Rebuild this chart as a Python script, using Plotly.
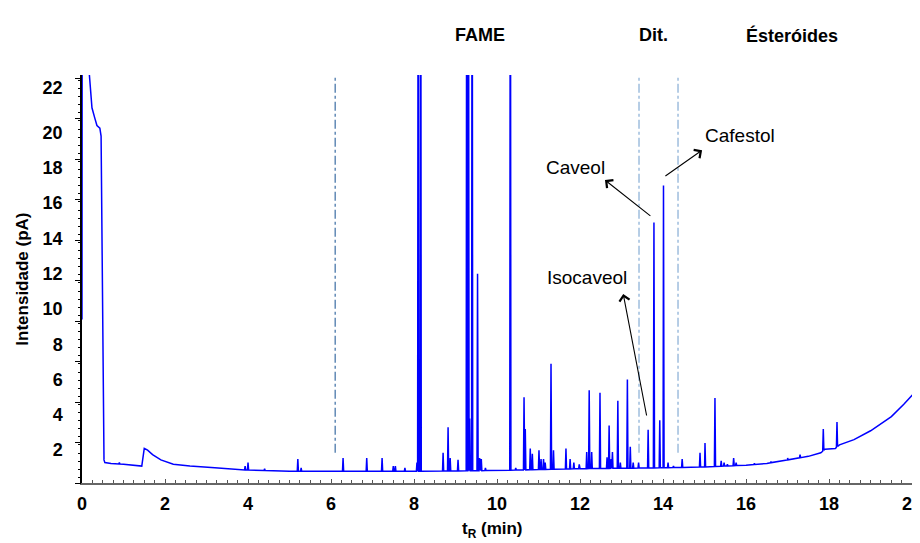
import numpy as np
import plotly.graph_objects as go

# ---- data ----
# baseline / slow-varying signal knots (retention time in min, intensity in pA)
base_t = [0.0, 0.005, 0.17, 0.24, 0.31, 0.36, 0.43, 0.46, 0.53, 0.55, 0.7, 1.0, 1.44,
          1.50, 1.58, 1.7, 1.9, 2.2, 2.6, 3.2, 3.9, 5.0, 6.5, 8.0, 10.0, 12.0, 14.0, 15.0,
          16.0, 16.5, 17.0, 17.5, 17.8, 17.9, 18.15, 18.25, 18.6, 19.0, 19.5, 19.8, 20.19]
base_v = [9.4, 30.0, 23.5, 21.4, 20.8, 20.4, 20.25, 19.8, 1.45, 1.3, 1.25, 1.2, 1.1,
          2.1, 2.0, 1.75, 1.45, 1.2, 1.1, 1.0, 0.88, 0.8, 0.8, 0.8, 0.85, 0.95, 1.0, 1.05,
          1.15, 1.25, 1.45, 1.65, 1.85, 2.05, 2.1, 2.3, 2.6, 3.1, 3.9, 4.6, 5.6]

# sharp peaks (apex retention time, apex intensity); 40 = off scale
peak_t = [0.9, 2.53, 3.93, 4.0, 4.4, 5.2, 5.28, 6.29, 6.86, 7.23, 7.5, 7.55, 7.78, 8.07,
          8.10, 8.16, 8.70, 8.82, 8.87, 9.06, 9.27, 9.31, 9.34, 9.40, 9.53, 9.58, 9.62,
          9.72, 10.32, 10.45, 10.65, 10.68, 10.80, 10.85, 11.01, 11.06, 11.12, 11.16,
          11.30, 11.36, 11.66, 11.76, 11.85, 11.98, 12.16, 12.22, 12.28, 12.48, 12.65,
          12.70, 12.75, 12.78, 12.91, 12.97, 13.14, 13.21, 13.28, 13.41, 13.64, 13.78,
          13.92, 14.01, 14.12, 14.25, 14.46, 14.70, 14.89, 15.01, 15.25, 15.40, 15.47,
          15.55, 15.70, 15.76, 16.20, 16.60, 17.00, 17.30, 17.86, 18.19]
peak_v = [1.3, 1.15, 1.1, 1.3, 0.95, 1.5, 1.0, 1.55, 1.55, 1.55, 1.1, 1.1, 1.0, 1.3,
          40, 40, 1.85, 3.3, 1.55, 1.45, 40, 40, 3.8, 40, 12.0, 1.55, 1.5,
          1.0, 40, 1.0, 5.0, 3.2, 2.1, 1.8, 2.0, 1.5, 1.5, 1.3,
          6.9, 2.0, 2.1, 1.5, 1.3, 1.2, 1.9, 5.4, 1.9, 5.25, 1.6,
          3.4, 1.5, 1.9, 4.8, 1.3, 6.0, 2.2, 1.3, 1.3, 3.15, 14.9,
          3.7, 17.0, 1.3, 1.1, 1.5, 1.05, 1.85, 2.4, 4.95, 1.4, 1.3,
          1.2, 1.55, 1.3, 1.25, 1.35, 1.55, 1.75, 3.2, 3.6]

x_tick_vals = [0, 2, 4, 6, 8, 10, 12, 14, 16, 18, 20]
y_tick_text = ["2", "4", "6", "8", "10", "12", "14", "16", "18", "20", "22"]
y_tick_pos = [2, 4, 6, 8, 10, 12, 14, 16, 18, 20, 22.55]

region_lines = [6.10, 13.42, 14.36]
region_colors = ["#4a78aa", "#8fb3d8", "#8fb3d8"]
group_labels = ["FAME", "Dit.", "Ésteróides"]
group_pos = [9.59, 13.76, 17.11]

# ---- build trace polyline ----
half_w = 0.014
pts = list(zip(base_t, base_v))
for t, h in zip(peak_t, peak_v):
    foot_l = float(np.interp(t - half_w, base_t, base_v))
    foot_r = float(np.interp(t + half_w, base_t, base_v))
    pts += [(t - half_w, foot_l), (t, h), (t + half_w, foot_r)]
pts.sort(key=lambda p: p[0])
xs = [p[0] for p in pts]
ys = [p[1] for p in pts]

X0, X1 = 0.0, 20.19
Y0, Y1 = 0.14, 23.26

fig = go.Figure()
fig.add_trace(go.Scatter(x=xs, y=ys, mode="lines",
                         line=dict(color="#0000ff", width=1.5),
                         hoverinfo="skip", showlegend=False))
# invisible trace to activate the tick-mark axis
fig.add_trace(go.Scatter(x=[X0], y=[Y0], yaxis="y2", mode="markers",
                         marker=dict(opacity=0), showlegend=False, hoverinfo="skip"))

for xv, col in zip(region_lines, region_colors):
    fig.add_shape(type="line", x0=xv, x1=xv, y0=1.85, y1=Y1, xref="x", yref="y",
                  line=dict(color=col, width=1.3, dash="dashdot"))

FAM = "Liberation Sans, Arial, sans-serif"
bold = dict(family=FAM, size=18, color="black")
reg = dict(family=FAM, size=19, color="black")

for lab, xv in zip(group_labels, group_pos):
    fig.add_annotation(x=xv, y=1.127, xref="x", yref="paper", text="<b>%s</b>" % lab,
                       showarrow=False, font=bold)

# compound labels
fig.add_annotation(x=11.88, y=18.04, text="Caveol", showarrow=False, font=reg)
fig.add_annotation(x=15.86, y=19.81, text="Cafestol", showarrow=False, font=reg)
fig.add_annotation(x=12.17, y=11.76, text="Isocaveol", showarrow=False, font=reg)
# arrows (head at x,y ; tail at ax,ay)
arrows = [((12.60, 17.31), (13.73, 15.21)),
          ((14.94, 19.0), (14.02, 17.48)),
          ((13.04, 10.85), (13.61, 3.88))]
for (hx, hy), (tx, ty) in arrows:
    fig.add_annotation(x=hx, y=hy, ax=tx, ay=ty, xref="x", yref="y", axref="x", ayref="y",
                       text="", showarrow=True, arrowhead=4, arrowsize=1.8, arrowwidth=1.1,
                       arrowcolor="black", standoff=0, startstandoff=0)

# axis titles
fig.add_annotation(x=-0.072, y=0.5, xref="paper", yref="paper", text="<b>Intensidade (pA)</b>",
                   textangle=-90, showarrow=False, font=dict(family=FAM, size=17, color="black"),
                   xanchor="center", yanchor="middle")
fig.add_annotation(x=(492 - 82) / 838, y=-0.115, xref="paper", yref="paper",
                   text="<b>t<sub>R</sub> (min)</b>", showarrow=False,
                   font=dict(family=FAM, size=17, color="black"),
                   xanchor="center", yanchor="middle")

# the page body adds an 8px offset, so the figure is 8px smaller and margins shifted
fig.update_layout(
    width=912, height=535,
    margin=dict(l=74, r=0, t=67, b=60, autoexpand=False),
    plot_bgcolor="white", paper_bgcolor="white",
    xaxis=dict(range=[X0, X1], tickvals=x_tick_vals,
               ticktext=["<b>%d</b>" % v for v in x_tick_vals],
               ticks="inside", ticklen=4, automargin=False, ticklabeloverflow="allow",
               tickcolor="#555", showline=True, linecolor="#666", linewidth=2,
               showgrid=False, zeroline=False, tickfont=bold, ticklabelstandoff=3,
               minor=dict(ticks="inside", dtick=0.25, ticklen=3, tickcolor="#555")),
    yaxis=dict(range=[Y0, Y1], tickvals=y_tick_pos,
               ticktext=["<b>%s</b>" % t for t in y_tick_text], automargin=False,
               ticks="", showline=True, linecolor="black", linewidth=1.5,
               showgrid=False, zeroline=False, tickfont=bold, ticklabelstandoff=14),
    yaxis2=dict(range=[Y0, Y1], overlaying="y", side="left", showticklabels=False,
                ticks="outside", tick0=Y0, dtick=2.295, ticklen=6, tickcolor="black",
                showline=False, showgrid=False, zeroline=False, automargin=False,
                minor=dict(ticks="outside", dtick=0.459, ticklen=3, tickcolor="black")),
)

fig.write_html("out.html")
